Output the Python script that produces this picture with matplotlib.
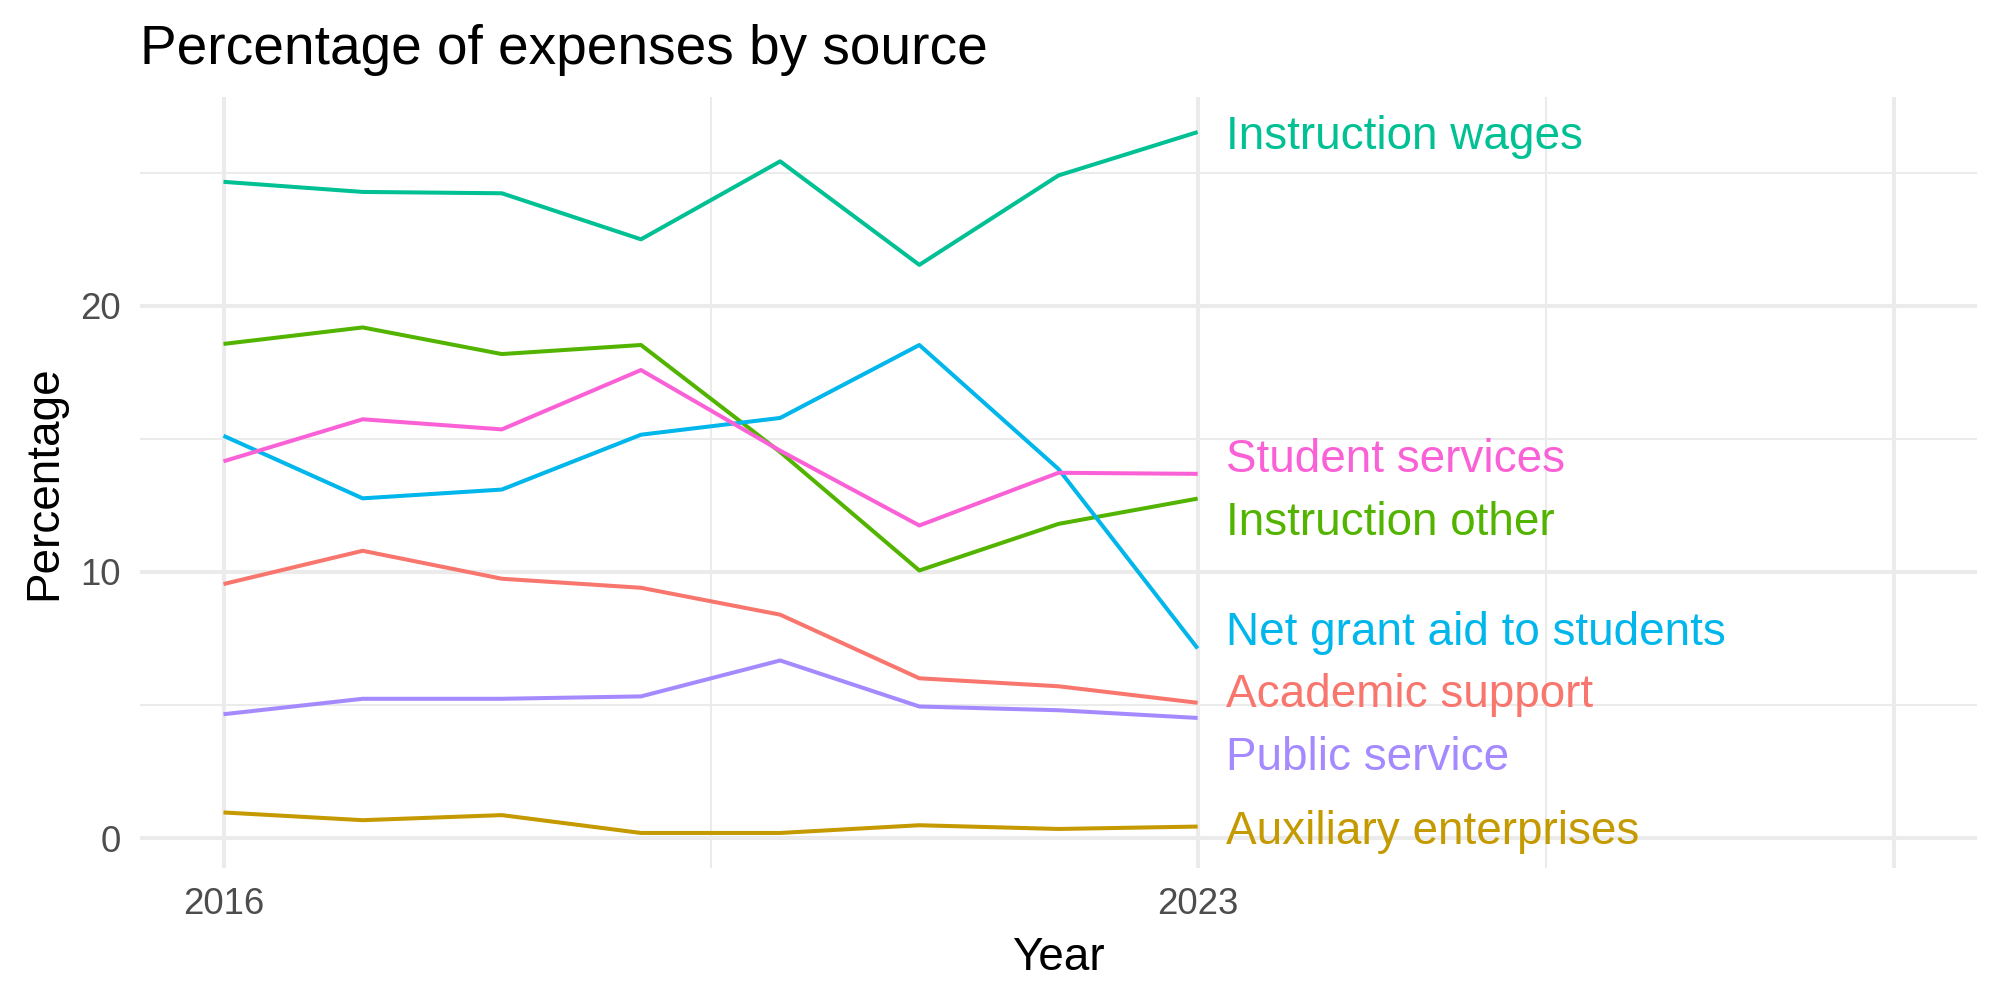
import matplotlib
matplotlib.use("Agg")
import matplotlib.pyplot as plt
import numpy as np

plt.rcParams['font.family'] = ['Liberation Sans', 'DejaVu Sans']

years = [2016, 2017, 2018, 2019, 2020, 2021, 2022, 2023]
series_names = ["Academic support", "Auxiliary enterprises", "Instruction other",
                "Instruction wages", "Net grant aid to students", "Public service",
                "Student services"]
academic_support = [9.54, 10.79, 9.74, 9.40, 8.39, 6.00, 5.70, 5.08]
auxiliary_enterprises = [0.96, 0.67, 0.86, 0.19, 0.19, 0.48, 0.34, 0.43]
instruction_other = [18.56, 19.18, 18.18, 18.52, 14.50, 10.05, 11.80, 12.75]
instruction_wages = [24.65, 24.27, 24.22, 22.49, 25.42, 21.53, 24.89, 26.52]
net_grant_aid = [15.11, 12.76, 13.09, 15.15, 15.78, 18.52, 13.86, 7.12]
public_service = [4.65, 5.23, 5.23, 5.32, 6.67, 4.94, 4.80, 4.51]
student_services = [14.15, 15.73, 15.35, 17.58, 14.55, 11.74, 13.72, 13.68]
colors = ["#F8766D", "#C49A00", "#53B400", "#00C094", "#00B6EB", "#A58AFF", "#FB61D7"]
x_breaks = [2016, 2023, 2028]
x_labels = ["2016", "2023", ""]
y_breaks = [0, 10, 20]

values = [academic_support, auxiliary_enterprises, instruction_other, instruction_wages,
          net_grant_aid, public_service, student_services]

fig = plt.figure(figsize=(20, 10), dpi=100)
ax = fig.add_axes([0.07, 0.132, 0.9185, 0.771])

# ggplot-like expansion
allv = np.concatenate([np.array(v) for v in values])
ymin, ymax = allv.min(), allv.max()
yr = ymax - ymin
ax.set_ylim(ymin - 0.05 * yr, ymax + 0.05 * yr)
xlo, xhi = 2016, 2028
xr = xhi - xlo
ax.set_xlim(xlo - 0.05 * xr, xhi + 0.05 * xr)

grid_col = "#EBEBEB"
for xb in x_breaks:
    ax.axvline(xb, color=grid_col, lw=2.9, zorder=0)
for xm in [(x_breaks[i] + x_breaks[i + 1]) / 2 for i in range(len(x_breaks) - 1)]:
    ax.axvline(xm, color=grid_col, lw=1.45, zorder=0)
for yb in y_breaks:
    ax.axhline(yb, color=grid_col, lw=2.9, zorder=0)
for ym in [5, 15, 25]:
    ax.axhline(ym, color=grid_col, lw=1.45, zorder=0)

for name, v, c in zip(series_names, values, colors):
    ax.plot(years, v, color=c, lw=2.9, solid_capstyle='butt', zorder=2)

# simple repel of end labels
ends = np.array([v[-1] for v in values])
gap = 2.35
order = np.argsort(ends)
clusters = [[i] for i in order]
def cpos(cl):
    m = np.mean([ends[i] for i in cl])
    n = len(cl)
    return [m + (k - (n - 1) / 2) * gap for k in range(n)]
changed = True
while changed:
    changed = False
    for j in range(len(clusters) - 1):
        a = cpos(clusters[j]); b = cpos(clusters[j + 1])
        if b[0] - a[-1] < gap - 1e-9:
            clusters[j] = clusters[j] + clusters[j + 1]
            del clusters[j + 1]
            changed = True
            break
label_y = {}
for cl in clusters:
    for i, p in zip(cl, cpos(cl)):
        label_y[i] = p

for i, (name, c) in enumerate(zip(series_names, colors)):
    ax.text(years[-1] + 0.2, label_y[i] - 0.2, name, color=c, fontsize=33,
            ha='left', va='center', zorder=3)

ax.set_xticks(x_breaks)
ax.set_xticklabels(x_labels)
ax.set_yticks(y_breaks)
ax.tick_params(axis='both', length=0, labelsize=26.4, labelcolor="#4D4D4D")
ax.tick_params(axis='x', pad=14)
ax.tick_params(axis='y', pad=14)
for s in ax.spines.values():
    s.set_visible(False)
ax.grid(False)
ax.set_xlabel("Year", fontsize=33, labelpad=10)
ax.set_ylabel("Percentage", fontsize=33, labelpad=10)
fig.text(0.07, 0.936, "Percentage of expenses by source", fontsize=39.6,
         ha='left', va='baseline')

fig.savefig("out.png", dpi=100, facecolor="white")
